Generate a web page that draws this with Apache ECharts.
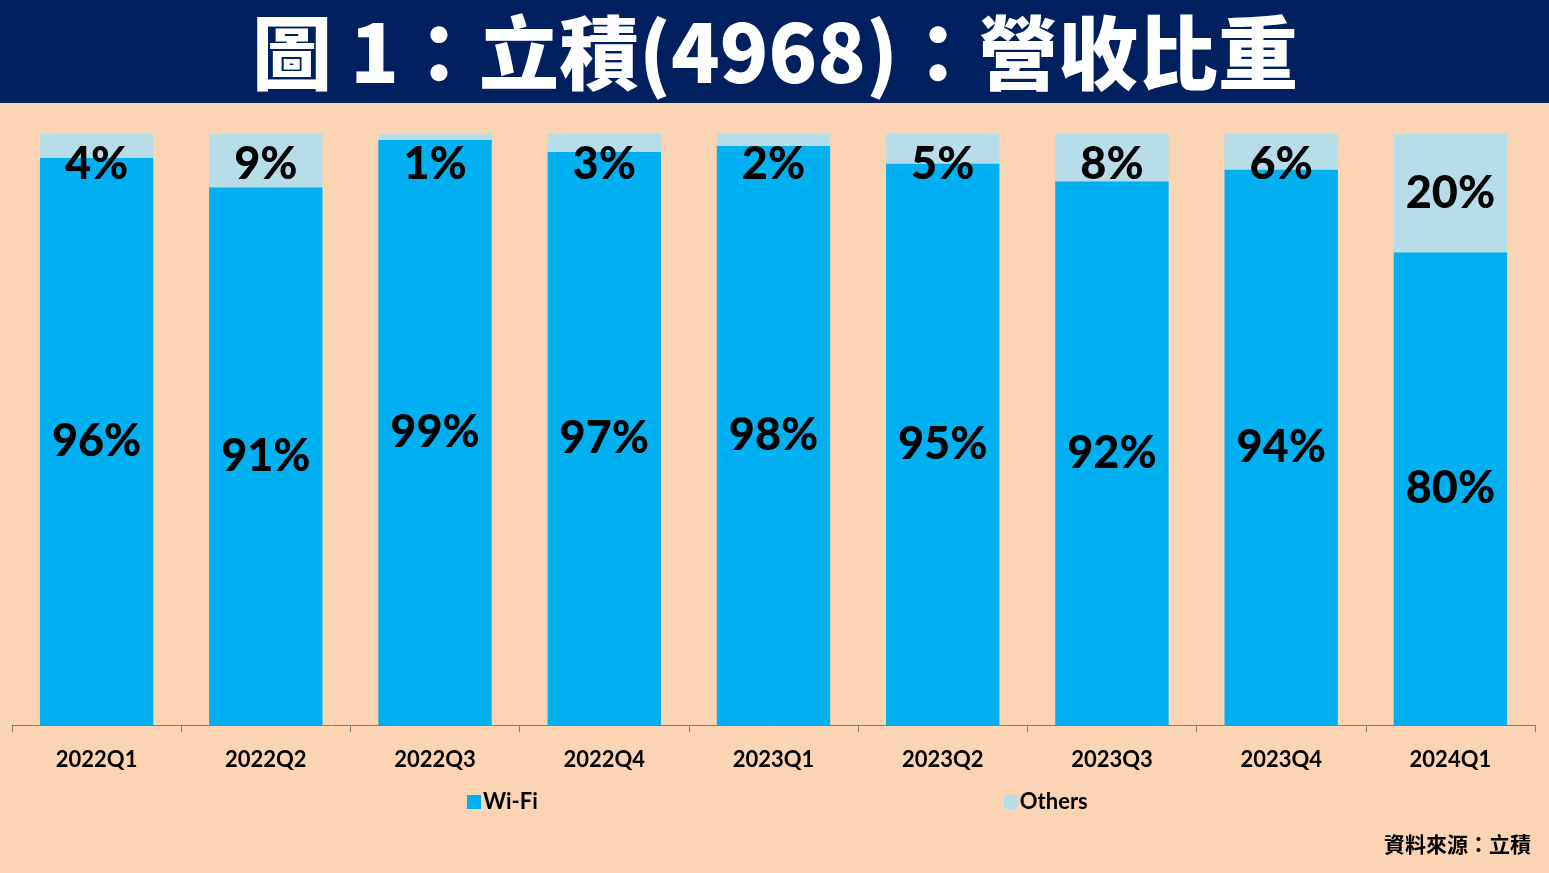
<!DOCTYPE html>
<html><head><meta charset="utf-8">
<script src="https://cdn.jsdelivr.net/npm/echarts@6/dist/echarts.min.js"></script>
<style>html,body{margin:0;padding:0;background:#FBD4B4;}#c{width:1549px;height:873px;}</style>
</head><body><div id="c"></div>
<script>
const categories = ['2022Q1','2022Q2','2022Q3','2022Q4','2023Q1','2023Q2','2023Q3','2023Q4','2024Q1'];
const wifi = [96, 91, 99, 97, 98, 95, 92, 94, 80];
const others = [4, 9, 1, 3, 2, 5, 8, 6, 20];
const titleText = '圖 1：立積(4968)：營收比重';
const sourceText = '資料來源：立積';

const labelFont = {fontFamily: 'Lato, "Noto Sans", sans-serif', fontWeight: 900, fontSize: 45, color: '#000'};
const chart = echarts.init(document.getElementById('c'));
chart.setOption({
  backgroundColor: '#FBD4B4',
  animation: false,
  graphic: [
    {type: 'rect', left: 0, top: 0, shape: {width: 1549, height: 103}, style: {fill: '#002060'}, z: 0},
    {type: 'text', x: 775, y: 53, style: {text: titleText, fill: '#fff', align: 'center', verticalAlign: 'middle', font: '900 80px "Noto Sans CJK TC", sans-serif'}, z: 1},
    {type: 'text', right: 18, top: 834, style: {text: sourceText, fill: '#000', font: 'bold 21px "Noto Sans CJK TC", sans-serif'}}
  ],
  legend: {
    data: ['Wi-Fi', 'Others'],
    top: 786, left: 462,
    itemWidth: 14, itemHeight: 14, itemGap: 466,
    icon: 'rect',
    textStyle: {fontFamily: 'Lato, "Noto Sans", sans-serif', fontWeight: 'bold', fontSize: 22, color: '#000', padding: [0, 0, 0, -3]}
  },
  grid: {left: 12, right: 14, top: 134, bottom: 148},
  xAxis: {
    type: 'category', data: categories,
    axisLine: {lineStyle: {color: '#808080'}},
    axisTick: {show: true, length: 7, lineStyle: {color: '#808080'}},
    axisLabel: {margin: 24, fontFamily: 'Lato, "Noto Sans", sans-serif', fontWeight: 'bold', fontSize: 22, color: '#000'}
  },
  yAxis: {type: 'value', min: 0, max: 100, show: false, splitLine: {show: false}},
  series: [
    {
      name: 'Wi-Fi', type: 'bar', stack: 's', barCategoryGap: '33%',
      data: wifi,
      itemStyle: {color: '#00B0F0'},
      label: Object.assign({show: true, position: 'inside', formatter: '{c}%'}, labelFont)
    },
    {
      name: 'Others', type: 'bar', stack: 's',
      data: others.map(v => ({
        value: v,
        label: v < 15 ? {position: 'insideTop', distance: 8} : {position: 'inside'}
      })),
      itemStyle: {color: '#B7DEE8'},
      label: Object.assign({show: true, formatter: '{c}%'}, labelFont)
    }
  ]
});
</script></body></html>
